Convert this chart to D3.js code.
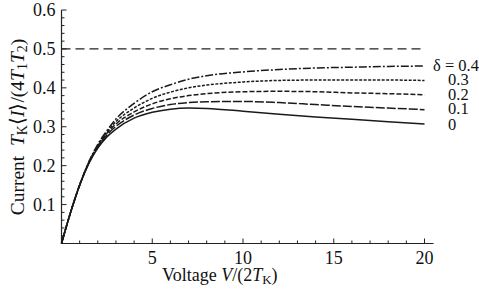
<!DOCTYPE html>
<html>
<head>
<meta charset="utf-8">
<script src="https://cdn.jsdelivr.net/npm/d3@7"></script>
<style>
  body { margin: 0; background: #fff; }
</style>
</head>
<body>
<svg id="chart" width="479" height="294"></svg>
<script>
// voltage V/(2T_K) sample points
var voltage = [0, 0.5, 1, 1.5, 2, 2.5, 3, 4, 5, 6, 7, 8, 10, 12, 14, 16, 18, 20];

// current T_K<I>/(4 T1 T2) for each delta
var delta0  = [0, 0.08, 0.15, 0.205, 0.245, 0.274, 0.294, 0.322, 0.337, 0.345, 0.348, 0.347, 0.340, 0.332, 0.325, 0.319, 0.313, 0.307];
var delta01 = [0, 0.08, 0.15, 0.206, 0.248, 0.279, 0.301, 0.330, 0.347, 0.357, 0.362, 0.364, 0.365, 0.362, 0.357, 0.352, 0.348, 0.344];
var delta02 = [0, 0.08, 0.15, 0.207, 0.250, 0.283, 0.307, 0.338, 0.359, 0.372, 0.380, 0.385, 0.390, 0.391, 0.390, 0.387, 0.385, 0.382];
var delta03 = [0, 0.08, 0.15, 0.208, 0.252, 0.286, 0.313, 0.348, 0.373, 0.389, 0.400, 0.407, 0.415, 0.419, 0.420, 0.420, 0.420, 0.419];
var delta04 = [0, 0.08, 0.15, 0.209, 0.255, 0.290, 0.320, 0.360, 0.390, 0.408, 0.422, 0.431, 0.441, 0.447, 0.451, 0.453, 0.455, 0.456];

var limitValue = 0.5;

var xTicks = [5, 10, 15, 20];
var yTicks = [0.1, 0.2, 0.3, 0.4, 0.5, 0.6];
var legendLabels = ["\u03b4 = 0.4", "0.3", "0.2", "0.1", "0"];

var series = [
  { name: "0",   values: delta0,  dash: null },
  { name: "0.1", values: delta01, dash: "9,2" },
  { name: "0.2", values: delta02, dash: "5,2" },
  { name: "0.3", values: delta03, dash: "3,1.5" },
  { name: "0.4", values: delta04, dash: "8,2,2,2" }
];

var FONT = "'Liberation Serif', 'Times New Roman', Times, serif";

var svg = d3.select("#chart").attr("font-family", FONT);

var x = d3.scaleLinear().domain([0, 20]).range([61.5, 424.5]);
var y = d3.scaleLinear().domain([0, 0.6]).range([243.5, 10]);

var axisColor = "#222";

// x axis
var gx = svg.append("g").attr("transform", "translate(0,243.5)");
gx.append("line").attr("x1", x(0)).attr("x2", x(20.5)).attr("stroke", axisColor).attr("stroke-width", 1.2);
gx.selectAll("line.minor").data(d3.range(1, 21)).enter().append("line")
  .attr("class", "minor")
  .attr("x1", function(d) { return x(d); }).attr("x2", function(d) { return x(d); })
  .attr("y1", 0).attr("y2", function(d) { return d % 5 === 0 ? -5 : -3; })
  .attr("stroke", axisColor).attr("stroke-width", 1);
gx.selectAll("text").data(xTicks).enter().append("text")
  .attr("x", function(d) { return x(d); }).attr("y", 20)
  .attr("text-anchor", "middle").attr("font-size", 18).attr("fill", "#111")
  .attr("font-family", FONT)
  .text(function(d) { return d; });

// y axis
var gy = svg.append("g").attr("transform", "translate(61.5,0)");
gy.append("line").attr("y1", y(0)).attr("y2", y(0.6)).attr("stroke", axisColor).attr("stroke-width", 1.2);
gy.selectAll("line.minor").data(d3.range(1, 31)).enter().append("line")
  .attr("class", "minor")
  .attr("y1", function(d) { return y(d * 0.02); }).attr("y2", function(d) { return y(d * 0.02); })
  .attr("x1", 0).attr("x2", function(d) { return d % 5 === 0 ? 5 : 3; })
  .attr("stroke", axisColor).attr("stroke-width", 1);
gy.selectAll("text").data(yTicks).enter().append("text")
  .attr("x", -6).attr("y", function(d) { return y(d) + 6; })
  .attr("text-anchor", "end").attr("font-size", 18).attr("fill", "#111")
  .attr("font-family", FONT)
  .text(function(d) { return d.toFixed(1); });

// 0.5 limit
svg.append("line")
  .attr("x1", x(0)).attr("x2", x(20))
  .attr("y1", y(limitValue)).attr("y2", y(limitValue))
  .attr("stroke", "#222").attr("stroke-width", 1.3).attr("stroke-dasharray", "9,5");

var line = d3.line()
  .x(function(d, i) { return x(voltage[i]); })
  .y(function(d) { return y(d); })
  .curve(d3.curveMonotoneX);

svg.selectAll("path.curve").data(series).enter().append("path")
  .attr("class", "curve")
  .attr("d", function(s) { return line(s.values); })
  .attr("fill", "none").attr("stroke", "#1a1a1a").attr("stroke-width", 1.5)
  .attr("stroke-dasharray", function(s) { return s.dash; });

// labels at right end
svg.selectAll("text.lab").data(legendLabels).enter().append("text")
  .attr("class", "lab")
  .attr("x", function(d, i) { return i === 0 ? 433 : 448; })
  .attr("y", function(d, i) { return [71, 85, 100, 114, 130][i]; })
  .attr("font-size", 16.5).attr("fill", "#111")
  .attr("font-family", FONT)
  .text(function(d) { return d; });

// axis titles
var xt = svg.append("text").attr("x", 162).attr("y", 281).attr("font-size", 18)
  .attr("fill", "#111").attr("font-family", FONT);
xt.append("tspan").text("Voltage ");
xt.append("tspan").attr("font-style", "italic").text("V");
xt.append("tspan").text("/(2");
xt.append("tspan").attr("font-style", "italic").text("T");
xt.append("tspan").attr("font-size", 13).attr("dy", 3).text("K");
xt.append("tspan").attr("dy", -3).text(")");

var yt = svg.append("text").attr("transform", "translate(24,127) rotate(-90)")
  .attr("text-anchor", "middle").attr("font-size", 19.5)
  .attr("fill", "#111").attr("font-family", FONT);
yt.append("tspan").text("Current\u00a0\u00a0");
yt.append("tspan").attr("font-style", "italic").text("T");
yt.append("tspan").attr("font-size", 14).attr("dy", 3).text("K");
yt.append("tspan").attr("dy", -3).text("\u27e8");
yt.append("tspan").attr("font-style", "italic").text("I");
yt.append("tspan").text("\u27e9/(4");
yt.append("tspan").attr("font-style", "italic").text("T");
yt.append("tspan").attr("font-size", 14).attr("dy", 3).text("1");
yt.append("tspan").attr("dy", -3).attr("font-style", "italic").text("T");
yt.append("tspan").attr("font-size", 14).attr("dy", 3).text("2");
yt.append("tspan").attr("dy", -3).text(")");
</script>
</body>
</html>
